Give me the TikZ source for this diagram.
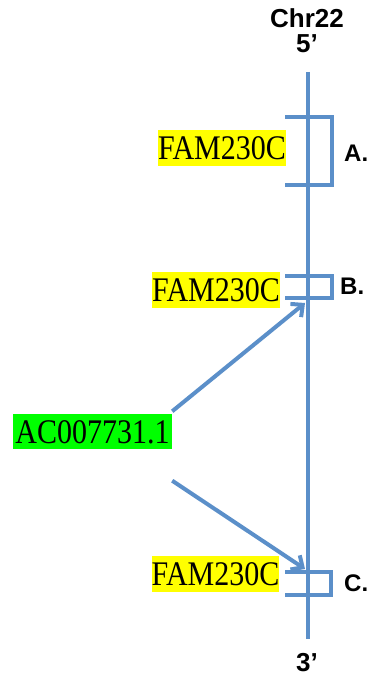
\documentclass[tikz,border=0pt]{standalone}
\usepackage{fontspec}
\setmainfont{Liberation Serif}
\setsansfont{Liberation Sans}
\usetikzlibrary{arrows.meta}
\definecolor{chrblue}{HTML}{5B8FC9}
\definecolor{hlyellow}{HTML}{FFFF00}
\definecolor{hlgreen}{HTML}{00FF00}
\newcommand{\tallt}[1]{\scalebox{1}[1.15]{#1}}
\begin{document}
\begin{tikzpicture}[x=1pt,y=1pt,
  chrline/.style={draw=chrblue,line width=4pt},
  bracketline/.style={draw=chrblue,line width=3.5pt,line join=miter},
  arrowline/.style={draw=chrblue,line width=4pt,-{Straight Barb[length=9pt,width=17pt,line width=4pt]}},
  genebox/.style={fill=hlyellow,inner sep=0pt,minimum width=127pt,minimum height=36pt,font=\fontsize{30}{30}\selectfont},
  greenbox/.style={fill=hlgreen,inner sep=0pt,minimum width=159pt,minimum height=35pt,font=\fontsize{30}{30}\selectfont},
  lbl/.style={font=\sffamily\bfseries\fontsize{24}{24}\selectfont,inner sep=0pt,anchor=west},
  endlbl/.style={font=\sffamily\bfseries\fontsize{26}{26}\selectfont,inner sep=0pt}
]
\useasboundingbox (0,0) rectangle (367,683);
% chromosome
\coordinate (top) at (308,611);
\coordinate (bot) at (308,44);
\draw[chrline] (top) -- (bot);
\node[endlbl] (chr) at (307,665) {Chr22};
\node[endlbl] (five) at (307,639) {5’};
\node[endlbl] (three) at (307,20) {3’};
% brackets
\draw[bracketline] (285,566) -- (332,566) -- (332,498) -- (285,498);
\draw[bracketline] (285,407) -- (332,407) -- (332,385) -- (285,385);
\draw[bracketline] (285,111) -- (331,111) -- (331,88) -- (285,88);
\node[lbl] (la) at (344,530) {A.};
\node[lbl] (lb) at (340,397) {B.};
\node[lbl] (lc) at (344,100) {C.};
% genes
\node[genebox] (fa) at (222,535) {\tallt{FAM230C}};
\node[genebox] (fb) at (216,393) {\tallt{FAM230C}};
\node[genebox] (fc) at (215.5,108.5) {\tallt{FAM230C}};
\node[greenbox] (ac) at (92.5,251) {\tallt{AC007731.1}};
% arrows
\coordinate (ta) at (305,380);
\coordinate (tc) at (305,114);
\draw[arrowline] (ac.north east) ++(0,3) -- (ta);
\draw[arrowline] (ac.south east) ++(0,-31) -- (tc);
\end{tikzpicture}
\end{document}
